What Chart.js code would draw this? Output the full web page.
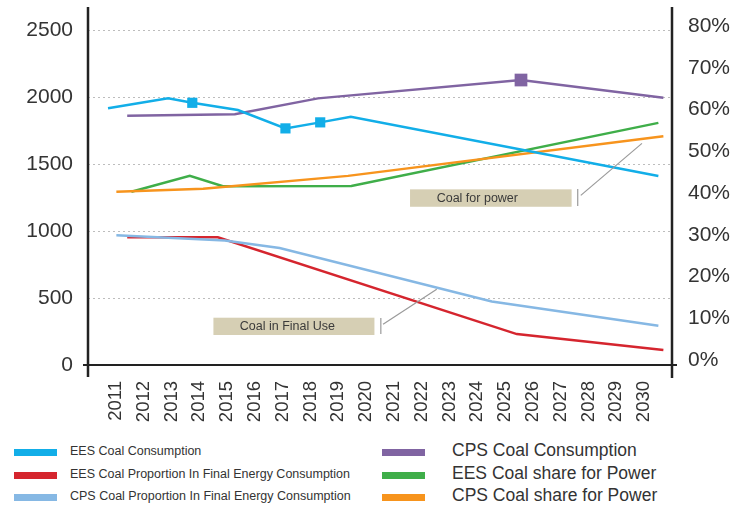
<!DOCTYPE html>
<html><head><meta charset="utf-8">
<script src="https://cdn.jsdelivr.net/npm/chart.js@4.4.1/dist/chart.umd.min.js"></script>
<style>
html,body{margin:0;padding:0;background:#fff;overflow:hidden;}
#wrap{position:relative;width:733px;height:506px;}
#cbox{position:absolute;left:0;top:0;width:733px;height:440px;}
.lg{position:absolute;font-family:'Liberation Sans',Arial,sans-serif;color:#333;white-space:nowrap;line-height:1;}
.sw{position:absolute;width:43px;height:7px;}
</style></head><body>
<div id="wrap"><div id="cbox"><canvas id="cv" width="733" height="440"></canvas></div><div id="legend"></div></div>
<script>
// ---------- data ----------
const years = [2011,2012,2013,2014,2015,2016,2017,2018,2019,2020,2021,2022,2023,2024,2025,2026,2027,2028,2029,2030];
const leftTicks = [0,500,1000,1500,2000,2500];
const rightTicks = [0,10,20,30,40,50,60,70,80];

const eesConsYears  = [2010.72, 2012.88, 2013.75, 2015.39, 2017.10, 2018.35, 2019.45, 2030.51];
const eesConsValues = [1916, 1990, 1957, 1903, 1766, 1811, 1853, 1410];
const eesConsMarked = [0, 0, 1, 0, 1, 1, 0, 0];

const cpsConsYears  = [2011.41, 2015.28, 2018.27, 2025.57, 2030.69];
const cpsConsValues = [1860, 1871, 1990, 2127, 1995];
const cpsConsMarked = [0, 0, 0, 1, 0];

const eesFinalYears  = [2011.41, 2014.67, 2025.42, 2030.69];
const eesFinalValues = [29.4, 29.4, 6.2, 2.4];

const cpsFinalYears  = [2011.02, 2014.92, 2016.89, 2024.52, 2030.51];
const cpsFinalValues = [29.9, 28.6, 26.8, 14.0, 8.2];

const eesPowerYears  = [2011.56, 2013.66, 2014.85, 2019.47, 2030.51];
const eesPowerValues = [40.3, 44.1, 41.6, 41.7, 56.8];

const cpsPowerYears  = [2011.02, 2014.14, 2019.35, 2030.69];
const cpsPowerValues = [40.3, 41.0, 44.1, 53.6];

const seriesNames = {
  eesCons: 'EES Coal Consumption',
  eesFinal: 'EES Coal Proportion In Final Energy Consumption',
  cpsFinal: 'CPS Coal Proportion In Final Energy Consumption',
  cpsCons: 'CPS Coal Consumption',
  eesPower: 'EES Coal share for Power',
  cpsPower: 'CPS Coal share for Power'
};
const noteTexts = ['Coal for power', 'Coal in Final Use'];

// ---------- styles ----------
const COL = {
  eesCons: '#12aee8', eesFinal: '#d5252e', cpsFinal: '#86b8e4',
  cpsCons: '#8064a2', eesPower: '#3fae49', cpsPower: '#f7941d'
};
const FONT = "'Liberation Sans', Arial, sans-serif";

function pts(xs, ys) { return xs.map((x, i) => ({x: x, y: ys[i]})); }
function ds(key, xs, ys, axis, marked, mr) {
  return {
    label: seriesNames[key], data: pts(xs, ys), yAxisID: axis,
    borderColor: COL[key], backgroundColor: COL[key], borderWidth: 2.5,
    pointStyle: 'rect', pointBorderWidth: 0,
    pointRadius: marked ? (c => marked[c.dataIndex] ? mr : 0) : 0,
    pointHoverRadius: 0, tension: 0, fill: false
  };
}
const datasets = [
  ds('eesCons', eesConsYears, eesConsValues, 'y', eesConsMarked, 7.2),
  ds('cpsFinal', cpsFinalYears, cpsFinalValues, 'y2'),
  ds('cpsPower', cpsPowerYears, cpsPowerValues, 'y2'),
  ds('cpsCons', cpsConsYears, cpsConsValues, 'y', cpsConsMarked, 9),
  ds('eesFinal', eesFinalYears, eesFinalValues, 'y2'),
  ds('eesPower', eesPowerYears, eesPowerValues, 'y2')
];

// annotation geometry in data units (x: year, y: left-axis units)
const notes = [
  {text: noteTexts[0], box: [2021.58, 2027.39, 1181, 1311], textX: 2024.0, bracket: [2027.61, 1187, 1313], leader: [2027.72, 1266, 2029.92, 1654]},
  {text: noteTexts[1], box: [2014.51, 2020.30, 224, 353], textX: 2017.17, bracket: [2020.53, 231, 351], leader: [2020.61, 305, 2022.54, 565]}
];

const overlay = {
  id: 'overlay',
  afterDraw(chart) {
    const {ctx, chartArea: a} = chart;
    const xs = chart.scales.x, ys = chart.scales.y;
    const line = (x1, y1, x2, y2) => { ctx.beginPath(); ctx.moveTo(x1, y1); ctx.lineTo(x2, y2); ctx.stroke(); };
    ctx.save();
    ctx.strokeStyle = '#222';
    ctx.lineWidth = 2.5;
    line(a.left, a.top, a.left, a.bottom + 12);
    line(a.right, a.top, a.right, a.bottom + 13);
    ctx.lineWidth = 2;
    line(a.left - 5, a.bottom, a.right + 5, a.bottom);
    notes.forEach(n => {
      const x1 = xs.getPixelForValue(n.box[0]), x2 = xs.getPixelForValue(n.box[1]);
      const y1 = ys.getPixelForValue(n.box[3]), y2 = ys.getPixelForValue(n.box[2]);
      ctx.fillStyle = '#d6cfb4';
      ctx.fillRect(x1, y1, x2 - x1, y2 - y1);
      ctx.fillStyle = '#3a3a3a';
      ctx.font = '12.5px ' + FONT;
      ctx.textAlign = 'center'; ctx.textBaseline = 'middle';
      ctx.fillText(n.text, xs.getPixelForValue(n.textX), (y1 + y2) / 2 + 0.5);
      ctx.strokeStyle = '#9a9a9a'; ctx.lineWidth = 1.2;
      const bx = xs.getPixelForValue(n.bracket[0]);
      line(bx, ys.getPixelForValue(n.bracket[1]), bx, ys.getPixelForValue(n.bracket[2]));
      line(xs.getPixelForValue(n.leader[0]), ys.getPixelForValue(n.leader[1]),
           xs.getPixelForValue(n.leader[2]), ys.getPixelForValue(n.leader[3]));
    });
    ctx.restore();
  }
};

new Chart(document.getElementById('cv'), {
  type: 'line',
  data: {datasets: datasets},
  options: {
    responsive: false, animation: false, devicePixelRatio: 1,
    layout: {padding: {top: 7, left: 0, right: 0, bottom: 0}},
    plugins: {legend: {display: false}, tooltip: {enabled: false}},
    events: [],
    scales: {
      x: {
        type: 'linear', position: 'bottom', min: 2010, max: 2031,
        afterBuildTicks: s => { s.ticks = years.map(v => ({value: v})); },
        afterFit: s => { s.height = 75; s.paddingLeft = 0; s.paddingRight = 0; },
        grid: {display: false}, border: {display: false},
        ticks: {autoSkip: false, minRotation: 90, maxRotation: 90, padding: 8, color: '#333',
                font: {family: FONT, size: 18.5}, callback: v => String(v)}
      },
      y: {
        type: 'linear', position: 'left', min: 0, max: 2672,
        afterBuildTicks: s => { s.ticks = leftTicks.map(v => ({value: v})); },
        afterFit: s => { s.width = 88; s.paddingTop = 0; s.paddingBottom = 0; },
        grid: {drawTicks: false, lineWidth: 1, color: c => c.tick && c.tick.value === 0 ? 'rgba(0,0,0,0)' : '#bdbdbd'},
        border: {display: false, dash: [2, 3]},
        ticks: {padding: 15, color: '#333', font: {family: FONT, size: 21}, callback: v => String(v)}
      },
      y2: {
        type: 'linear', position: 'right', min: -1.2, max: 84.55,
        afterBuildTicks: s => { s.ticks = rightTicks.map(v => ({value: v})); },
        afterFit: s => { s.width = 61; s.paddingTop = 0; s.paddingBottom = 0; },
        grid: {display: false, drawTicks: false}, border: {display: false},
        ticks: {padding: 16, color: '#333', font: {family: FONT, size: 21}, callback: v => v + '%'}
      }
    }
  },
  plugins: [overlay]
});

// ---------- legend (HTML text) ----------
const legendCols = [
  {keys: ['eesCons', 'eesFinal', 'cpsFinal'], swX: 14, txX: 70, size: 12.5},
  {keys: ['cpsCons', 'eesPower', 'cpsPower'], swX: 382, txX: 452, size: 17.5}
];
const rowY = [452, 475, 497];
const lg = document.getElementById('legend');
legendCols.forEach(col => {
  col.keys.forEach((k, i) => {
    const sw = document.createElement('div');
    sw.className = 'sw';
    sw.style.left = col.swX + 'px'; sw.style.top = (rowY[i] - 3.5) + 'px';
    sw.style.background = COL[k];
    lg.appendChild(sw);
    const t = document.createElement('div');
    t.className = 'lg';
    t.style.left = col.txX + 'px'; t.style.top = (rowY[i] - col.size * 0.55) + 'px';
    t.style.fontSize = col.size + 'px';
    t.textContent = seriesNames[k];
    lg.appendChild(t);
  });
});
</script>
</body></html>
